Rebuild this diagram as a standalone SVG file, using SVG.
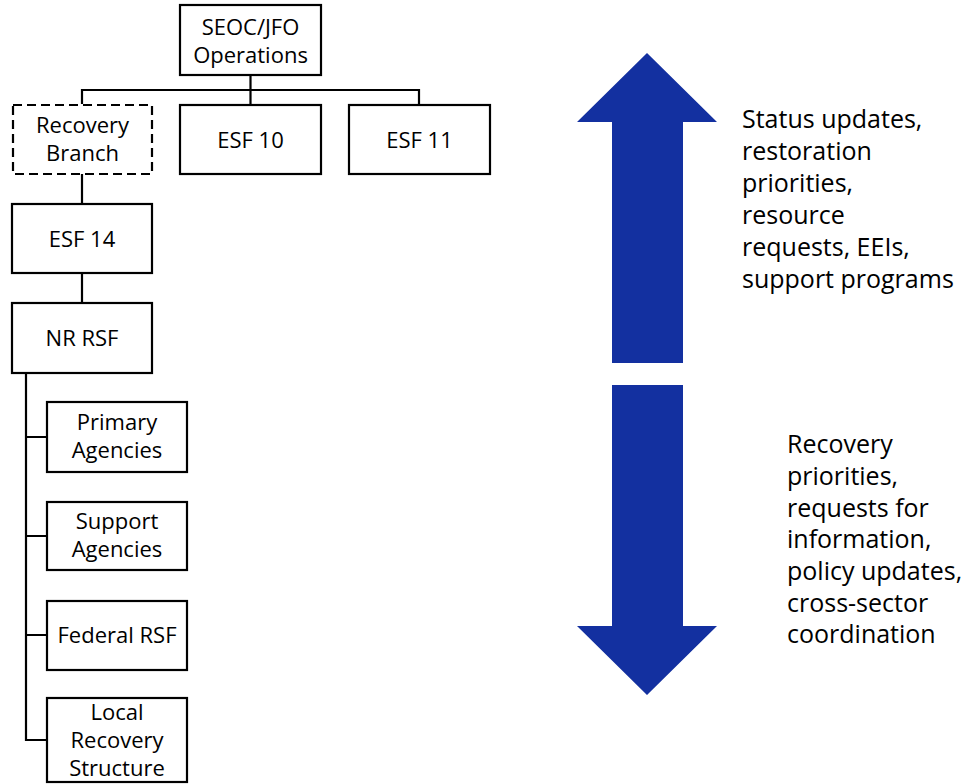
<svg xmlns="http://www.w3.org/2000/svg" width="969" height="784" viewBox="0 0 969 784">
<style>
.box{fill:#fff;stroke:#000;stroke-width:2.2}
.dash{stroke-dasharray:9 5}
.t{font-family:"Open Sans","Liberation Sans",sans-serif;font-size:22px;fill:#000;text-anchor:middle}
.s{font-family:"Open Sans","Liberation Sans",sans-serif;font-size:25px;fill:#000}
.ln{fill:none;stroke:#000;stroke-width:2.2}
.arr{fill:#1330A0}
</style>
<rect width="969" height="784" fill="#fff"/>
<g id="connectors">
<path class="ln" d="M250.5 75V90M82 104V90H419V104M250.5 90V104"/>
<path class="ln" d="M82 174V204M82 273V303"/>
<path class="ln" d="M26 373V740H47M26 437H47M26 536H47M26 635H47"/>
</g>
<g id="seoc"><rect class="box" x="180" y="5" width="141" height="70"/><text class="t" x="250.5" y="35">SEOC/JFO</text><text class="t" x="250.5" y="63">Operations</text></g>
<g id="recovery-branch"><rect class="box dash" x="13" y="105" width="139" height="69"/><text class="t" x="82.5" y="133">Recovery</text><text class="t" x="82.5" y="161">Branch</text></g>
<g id="esf10"><rect class="box" x="180" y="105" width="141" height="69"/><text class="t" x="250.5" y="148">ESF 10</text></g>
<g id="esf11"><rect class="box" x="349" y="105" width="141" height="69"/><text class="t" x="419.5" y="148">ESF 11</text></g>
<g id="esf14"><rect class="box" x="12" y="204" width="140" height="69"/><text class="t" x="82" y="247">ESF 14</text></g>
<g id="nr-rsf"><rect class="box" x="12" y="303" width="140" height="70"/><text class="t" x="82" y="346">NR RSF</text></g>
<g id="primary"><rect class="box" x="47" y="402" width="140" height="70"/><text class="t" x="117" y="430">Primary</text><text class="t" x="117" y="458">Agencies</text></g>
<g id="support"><rect class="box" x="47" y="502" width="140" height="68"/><text class="t" x="117" y="529">Support</text><text class="t" x="117" y="557">Agencies</text></g>
<g id="federal"><rect class="box" x="47" y="601" width="140" height="69"/><text class="t" x="117" y="643">Federal RSF</text></g>
<g id="local"><rect class="box" x="47" y="698" width="140" height="84"/><text class="t" x="117" y="720">Local</text><text class="t" x="117" y="748">Recovery</text><text class="t" x="117" y="776">Structure</text></g>
<g id="up-arrow"><polygon class="arr" points="647,53 717,122 683,122 683,363 612,363 612,122 577,122"/></g>
<g id="down-arrow"><polygon class="arr" points="612,385 683,385 683,626 717,626 647,695 577,626 612,626"/></g>
<g id="up-label"><text class="s" x="742" y="128">Status updates,</text><text class="s" x="742" y="160">restoration</text><text class="s" x="742" y="192">priorities,</text><text class="s" x="742" y="224">resource</text><text class="s" x="742" y="256">requests, EEIs,</text><text class="s" x="742" y="288">support programs</text></g>
<g id="down-label"><text class="s" x="787" y="453">Recovery</text><text class="s" x="787" y="485">priorities,</text><text class="s" x="787" y="517">requests for</text><text class="s" x="787" y="548">information,</text><text class="s" x="787" y="580">policy updates,</text><text class="s" x="787" y="612">cross-sector</text><text class="s" x="787" y="643">coordination</text></g>
</svg>
